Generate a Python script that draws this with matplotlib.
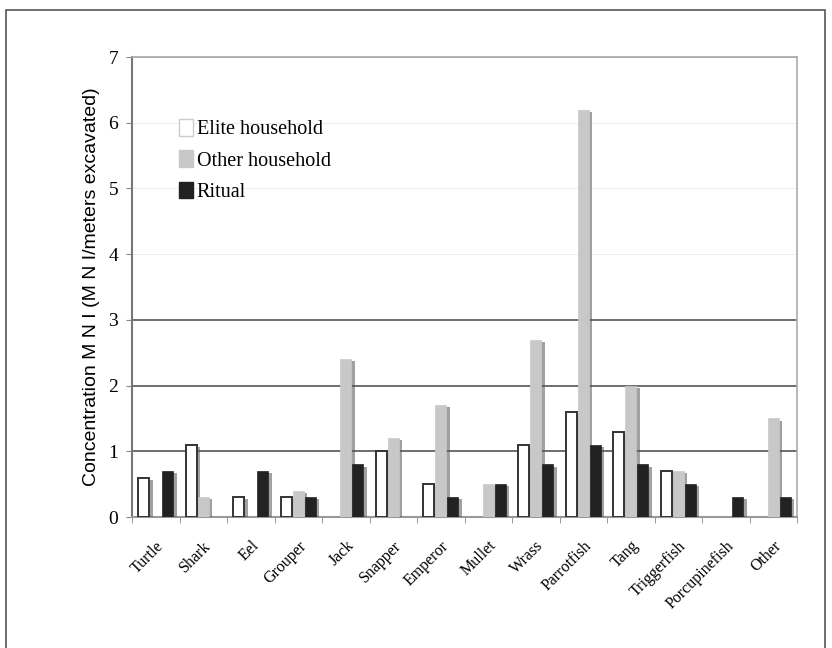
import matplotlib
matplotlib.use("Agg")
import matplotlib.pyplot as plt
import matplotlib.patheffects as pe
import matplotlib.transforms as mtransforms
from matplotlib.patches import Rectangle, Patch
import numpy as np

categories = ["Turtle", "Shark", "Eel", "Grouper", "Jack", "Snapper", "Emperor",
              "Mullet", "Wrass", "Parrotfish", "Tang", "Triggerfish",
              "Porcupinefish", "Other"]
elite = [0.6, 1.1, 0.3, 0.3, 0.0, 1.0, 0.5, 0.0, 1.1, 1.6, 1.3, 0.7, 0.0, 0.0]
other = [0.0, 0.3, 0.0, 0.4, 2.4, 1.2, 1.7, 0.5, 2.7, 6.2, 2.0, 0.7, 0.0, 1.5]
ritual = [0.7, 0.0, 0.7, 0.3, 0.8, 0.0, 0.3, 0.5, 0.8, 1.1, 0.8, 0.5, 0.3, 0.3]
yticks = [0, 1, 2, 3, 4, 5, 6, 7]

fig = plt.figure(figsize=(8.32, 6.48), dpi=100)
ax = fig.add_axes([132/832, 1-517/648, 665/832, 460/648])

x = np.arange(len(categories))
w = 0.25
shadow = [pe.SimplePatchShadow(offset=(2.5, -1.5), shadow_rgbFace="#555555", alpha=0.55), pe.Normal()]

b1 = ax.bar(x - w, elite, w*0.92, color="white", edgecolor="#333333", linewidth=1.4, zorder=3)
b2 = ax.bar(x, other, w*0.92, color="#c8c8c8", edgecolor="#c8c8c8", linewidth=0.5, zorder=3)
b3 = ax.bar(x + w, ritual, w*0.92, color="#222222", edgecolor="#222222", linewidth=0.5, zorder=3)
for bars, vals in ((b1, elite), (b2, other), (b3, ritual)):
    for r, v in zip(bars, vals):
        if v > 0:
            r.set_path_effects(shadow)
        else:
            r.set_visible(False)

ax.set_xlim(-0.5, len(categories) - 0.5)
ax.set_ylim(0, 7)
ax.set_yticks(yticks)
ax.set_yticklabels([str(t) for t in yticks], fontfamily="Liberation Serif", fontsize=14)
ax.set_xticks(x)
ax.set_xticklabels(categories, rotation=45, ha="right", rotation_mode="anchor",
                   fontfamily="Liberation Serif", fontsize=11.5)
offset = mtransforms.ScaledTranslation(-6/100, 0, fig.dpi_scale_trans)
for lbl in ax.get_xticklabels():
    lbl.set_transform(lbl.get_transform() + offset)
ax.tick_params(axis="x", which="major", length=0, pad=15)
ax.set_xticks(np.arange(-0.5, len(categories) + 0.5, 1), minor=True)
ax.tick_params(axis="x", which="minor", length=4, color="#888888", direction="out")
ax.tick_params(axis="y", length=4, color="#888888", direction="out", pad=6)

ax.grid(axis="y", zorder=0)
for t, gl in zip(ax.get_yticks(), ax.yaxis.get_gridlines()):
    if 1 <= t <= 3:
        gl.set_color("#555555"); gl.set_linewidth(1.2)
    elif t == 7:
        gl.set_color("#aaaaaa"); gl.set_linewidth(1.2)
    else:
        gl.set_color("#eeeeee"); gl.set_linewidth(0.8)
ax.set_axisbelow(True)

ax.spines["left"].set_color("#777777"); ax.spines["left"].set_linewidth(1.5)
ax.spines["bottom"].set_color("#999999"); ax.spines["bottom"].set_linewidth(1.5)
ax.spines["right"].set_color("#aaaaaa"); ax.spines["right"].set_linewidth(1.2)
ax.spines["top"].set_color("#aaaaaa"); ax.spines["top"].set_linewidth(1.2)

ax.set_ylabel("Concentration M N I (M N I/meters excavated)", fontfamily="Liberation Sans",
              fontsize=14, labelpad=6)

handles = [Patch(facecolor="white", edgecolor="#cccccc", linewidth=1.0, label="Elite household"),
           Patch(facecolor="#c8c8c8", edgecolor="#c8c8c8", label="Other household"),
           Patch(facecolor="#222222", edgecolor="#222222", label="Ritual")]
leg = ax.legend(handles=handles, loc="upper left", bbox_to_anchor=(0.043, 0.905), frameon=False,
                prop={"family": "Liberation Serif", "size": 14.5},
                handlelength=0.7, handleheight=0.9, handletextpad=0.2, labelspacing=0.55)

fig.patches.append(Rectangle((6/832, -0.01), 819/832, 1.01 - 10/648, transform=fig.transFigure,
                             fill=False, edgecolor="#555555", linewidth=1.2))

fig.savefig("out.png", dpi=100)
